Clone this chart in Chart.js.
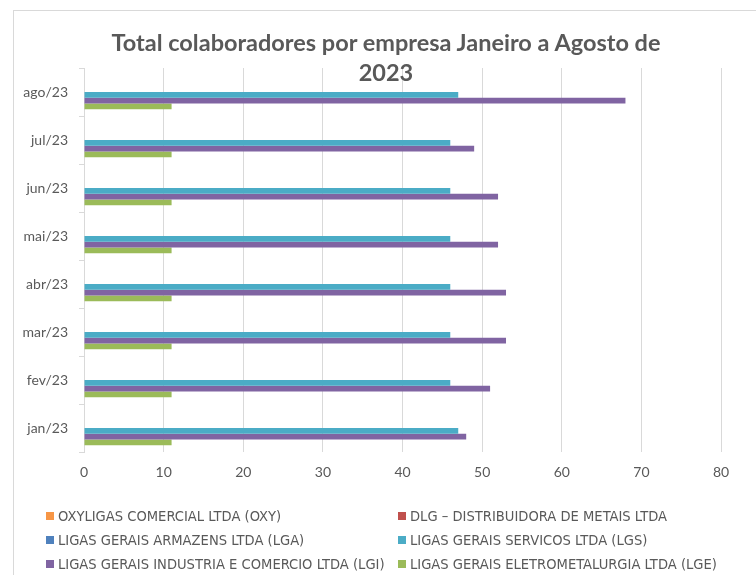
<!DOCTYPE html>
<html>
<head>
<meta charset="utf-8">
<script src="https://cdn.jsdelivr.net/npm/chart.js@4/dist/chart.umd.min.js"></script>
<style>
  html, body { margin: 0; padding: 0; background: #fff; }
  #wrap { position: relative; width: 756px; height: 575px; overflow: hidden; }
  #frame { position: absolute; left: 13px; top: 10px; width: 800px; height: 620px; border: 1px solid #d9d9d9; }
  #box { position: absolute; left: 0; top: 0; width: 756px; height: 575px; }
  #title {
    position: absolute; left: 86px; top: 27px; width: 600px;
    text-align: center; font-family: Lato, "Open Sans", sans-serif; font-weight: bold;
    font-size: 23.5px; line-height: 30px; color: #595959;
  }
  #legend { position: absolute; left: 0; top: 0; }
  .item {
    position: absolute; white-space: nowrap; height: 20px; line-height: 20px;
    font-family: "Liberation Sans Narrow", "DejaVu Sans Condensed", Lato, sans-serif;
    font-size: 14.6px; color: #595959;
  }
  .item i { position: absolute; left: 0; top: 6px; width: 8px; height: 8px; }
  .item span { position: absolute; left: 12px; top: 0; }
</style>
</head>
<body>
<div id="wrap">
  <div id="frame"></div>
  <div id="box"><canvas id="chart"></canvas></div>
  <div id="title">Total colaboradores por empresa Janeiro a Agosto de<br>2023</div>
  <div id="legend"></div>
</div>
<script>
// meses (de baixo para cima no grafico)
const months = ['jan/23', 'fev/23', 'mar/23', 'abr/23', 'mai/23', 'jun/23', 'jul/23', 'ago/23'];
const xTicks = [0, 10, 20, 30, 40, 50, 60, 70, 80];

const oxy = [0, 0, 0, 0, 0, 0, 0, 0];
const dlg = [0, 0, 0, 0, 0, 0, 0, 0];
const lga = [0, 0, 0, 0, 0, 0, 0, 0];
const lgs = [47, 46, 46, 46, 46, 46, 46, 47];
const lgi = [48, 51, 53, 53, 52, 52, 49, 68];
const lge = [11, 11, 11, 11, 11, 11, 11, 11];

const seriesNames = [
  'OXYLIGAS COMERCIAL LTDA (OXY)',
  'DLG \u2013 DISTRIBUIDORA DE METAIS LTDA',
  'LIGAS GERAIS ARMAZENS LTDA (LGA)',
  'LIGAS GERAIS SERVICOS LTDA (LGS)',
  'LIGAS GERAIS INDUSTRIA E COMERCIO LTDA (LGI)',
  'LIGAS GERAIS ELETROMETALURGIA LTDA (LGE)'
];
const seriesColors = ['#F79646', '#C0504D', '#4F81BD', '#4BACC6', '#8064A2', '#9BBB59'];
const seriesData = [oxy, dlg, lga, lgs, lgi, lge];

const gridColor = '#d9d9d9';
const textColor = '#595959';

let datasets = seriesNames.map(function (name, i) {
  return {
    label: name,
    data: seriesData[i],
    backgroundColor: seriesColors[i],
    borderWidth: 0,
    categoryPercentage: 0.72,
    barPercentage: 1.0
  };
});

const config = {
  type: 'bar',
  data: {labels: months, datasets: datasets},
  options: {
    indexAxis: 'y',
    responsive: true,
    maintainAspectRatio: false,
    animation: false,
    layout: {padding: {left: 0, right: 35, top: 68, bottom: 83}},
    plugins: {
      legend: {display: false},
      title: {display: false},
      tooltip: {enabled: false}
    },
    scales: {
      x: {
        min: 0,
        max: 80,
        afterFit: function (scale) { scale.height = 40; },
        afterBuildTicks: function (scale) {
          scale.ticks = xTicks.map(function (v) { return {value: v}; });
        },
        grid: {color: gridColor, drawTicks: false, lineWidth: 1},
        border: {display: false},
        ticks: {color: textColor, padding: 12, font: {family: 'Lato', size: 14}}
      },
      y: {
        reverse: true,
        afterFit: function (scale) { scale.width = 84; },
        grid: {drawOnChartArea: false, drawTicks: true, tickLength: 5, color: gridColor, offset: true},
        border: {display: true, color: gridColor},
        ticks: {color: textColor, padding: 11, font: {family: 'Lato', size: 14}}
      }
    }
  }
};

new Chart(document.getElementById('chart'), config);

// legenda em duas colunas, como no Excel
const legendCols = [46, 398];
const legendRows = [506, 530, 554];
let legend = document.getElementById('legend');
datasets.forEach(function (ds, i) {
  let item = document.createElement('div');
  item.className = 'item';
  item.style.left = legendCols[i % 2] + 'px';
  item.style.top = legendRows[Math.floor(i / 2)] + 'px';
  item.innerHTML = '<i style="background:' + ds.backgroundColor + '"></i><span></span>';
  item.querySelector('span').textContent = ds.label;
  legend.appendChild(item);
});
</script>
</body>
</html>
